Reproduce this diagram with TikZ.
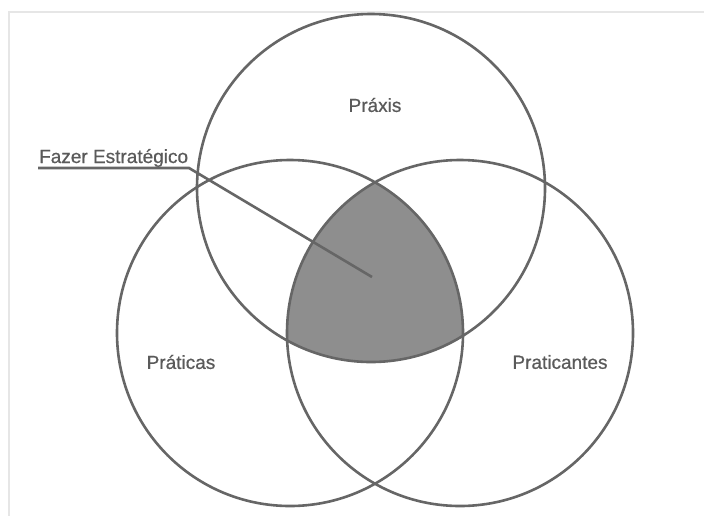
\documentclass[tikz,border=0pt]{standalone}
\usepackage{fontspec}
\setmainfont{Liberation Sans}
\newfontfamily\lblfont[FakeBold=0.6]{Liberation Sans}
\definecolor{ln}{HTML}{666666}
\definecolor{fillg}{HTML}{8E8E8E}
\definecolor{txt}{HTML}{5A5A5A}
\definecolor{frame}{HTML}{E6E6E6}
\begin{document}
\begin{tikzpicture}[x=1pt,y=-1pt,
  ring/.style={circle,draw=ln,line width=2.6pt,minimum size=#1,inner sep=0pt},
  lbl/.style={text=txt,font=\lblfont\fontsize{19}{22}\selectfont},
  conn/.style={draw=ln,line width=2.6pt}]
\useasboundingbox (0,0) rectangle (704,515);
\fill[white] (0,0) rectangle (704,515);
\draw[frame,line width=1.5pt] (9,540) -- (9,12) -- (740,12);
% shaded intersection
\begin{scope}
  \clip (371,188) circle [radius=174pt];
  \clip (290,333) circle [radius=173pt];
  \fill[fillg] (460,333) circle [radius=173pt];
\end{scope}
% circles
\node[ring=348pt] (praxis) at (371,188) {};
\node[ring=346pt] (praticas) at (290,333) {};
\node[ring=346pt] (praticantes) at (460,333) {};
% labels
\node[lbl] (lpraxis) at (375,105) {Práxis};
\node[lbl] (lpraticas) at (181,362) {Práticas};
\node[lbl] (lpraticantes) at (560,362) {Praticantes};
\node[lbl,anchor=base west,inner sep=0pt] (lfazer) at (39,163) {Fazer Estratégico};
% connector
\coordinate (u0) at (38,168);
\coordinate (u1) at (189,168);
\coordinate (tip) at (372,277);
\draw[conn] (u0) -- (u1) -- (tip);
\end{tikzpicture}
\end{document}
